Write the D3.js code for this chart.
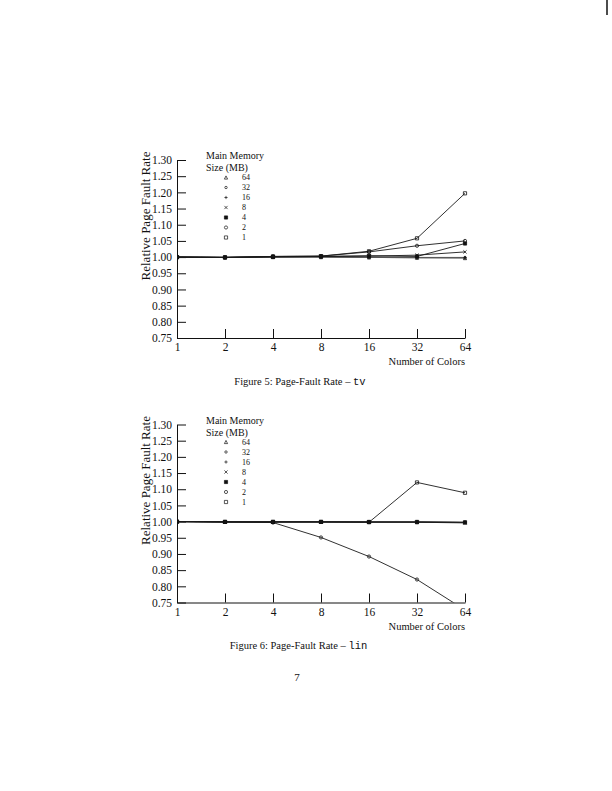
<!DOCTYPE html>
<html>
<head>
<meta charset="utf-8">
<script src="https://cdn.jsdelivr.net/npm/d3@7"></script>
<style>
    body { margin: 0; background: #fff; }
    text { font-family: "Liberation Serif", "Times New Roman", serif; fill: #111; }
    .mono { font-family: "Liberation Mono", "DejaVu Sans Mono", monospace; }
</style>
</head>
<body>
<div class="page"></div>
<script>

// x categories (number of colors) and y tick values
let numColors = [1, 2, 4, 8, 16, 32, 64];
let yTickValues = [0.75, 0.80, 0.85, 0.90, 0.95, 1.00, 1.05, 1.10, 1.15, 1.20, 1.25, 1.30];
let memorySizes = [64, 32, 16, 8, 4, 2, 1];

// Figure 5 - tv (relative page fault rate per memory size)
let tv64 = [1.000, 0.999, 1.000, 1.000, 0.999, 0.998, 0.997];
let tv32 = [1.000, 0.999, 1.000, 1.000, 0.999, 0.998, 0.998];
let tv16 = [1.000, 0.999, 1.000, 1.001, 1.000, 0.999, 0.999];
let tv8 = [1.000, 0.999, 1.001, 1.002, 1.003, 1.006, 1.016];
let tv4 = [1.000, 0.999, 1.001, 1.002, 1.004, 1.002, 1.042];
let tv2 = [1.000, 0.999, 1.002, 1.003, 1.016, 1.035, 1.050];
let tv1 = [1.000, 0.999, 1.002, 1.003, 1.018, 1.058, 1.197];

// Figure 6 - lin
let lin64 = [1.000, 0.999, 0.999, 0.999, 0.999, 0.998, 0.997];
let lin32 = [1.000, 0.999, 0.999, 0.999, 0.999, 0.999, 0.998];
let lin16 = [1.000, 0.999, 0.999, 0.999, 0.999, 0.999, 0.997];
let lin8 = [1.000, 0.999, 0.999, 0.999, 0.998, 0.998, 0.996];
let lin4 = [1.000, 0.999, 0.999, 0.999, 0.999, 0.999, 0.998];
let lin2 = [1.000, 0.999, 0.997, 0.951, 0.892, 0.821, 0.727];
let lin1 = [1.000, 0.999, 0.999, 0.999, 0.998, 1.121, 1.089];

let tvSeries = [tv64, tv32, tv16, tv8, tv4, tv2, tv1];
let linSeries = [lin64, lin32, lin16, lin8, lin4, lin2, lin1];

// marker shape for each memory size, same order as memorySizes
let markerTypes = ["triangle", "smallcircle", "plus", "cross", "filledsquare", "circle", "square"];

function markerPath(type, r) {
    if (type === "triangle") return "M0," + (-r) + "L" + r + "," + r + "L" + (-r) + "," + r + "Z";
    if (type === "plus") return "M" + (-r) + ",0H" + r + "M0," + (-r) + "V" + r;
    if (type === "cross") return "M" + (-r) + "," + (-r) + "L" + r + "," + r + "M" + (-r) + "," + r + "L" + r + "," + (-r);
    if (type === "square" || type === "filledsquare") return "M" + (-r) + "," + (-r) + "H" + r + "V" + r + "H" + (-r) + "Z";
    let c = type === "smallcircle" ? r * 0.75 : r;
    return "M" + (-c) + ",0A" + c + "," + c + " 0 1,1 " + c + ",0A" + c + "," + c + " 0 1,1 " + (-c) + ",0Z";
}

let svg = d3.select(".page").append("svg")
    .attr("width", 612)
    .attr("height", 791);

svg.append("rect").attr("width", 612).attr("height", 791).attr("fill", "#fff");

function drawFigure(offsetY, series, figNo, progName, captionX, clipId) {

    let x = d3.scaleLog().base(2).domain([1, 64]).range([177, 465]),
        y = d3.scaleLinear().domain([0.75, 1.30]).range([338 + offsetY, 160 + offsetY]);

    let g = svg.append("g");

    g.append("clipPath").attr("id", clipId)
        .append("rect")
        .attr("x", 177).attr("y", 150 + offsetY)
        .attr("width", 300).attr("height", 338 - 150);

    let yAxis = g.append("g")
        .attr("transform", "translate(177,0)")
        .call(d3.axisLeft(y).tickValues(yTickValues).tickFormat(d3.format(".2f"))
            .tickSizeInner(-9).tickSizeOuter(0).tickPadding(5));

    let xAxis = g.append("g")
        .attr("transform", "translate(0," + (338 + offsetY) + ")")
        .call(d3.axisBottom(x).tickValues(numColors).tickFormat(d3.format("d"))
            .tickSizeInner(-9).tickSizeOuter(0).tickPadding(5));

    [yAxis, xAxis].forEach(function (a) {
        a.selectAll("path, line").attr("stroke", "#111").attr("stroke-width", 1);
        a.selectAll("text")
            .style("font-family", "'Liberation Serif', serif")
            .style("font-size", "11.5px")
            .attr("fill", "#111");
    });
    xAxis.selectAll(".tick").filter(function (d) { return d === 1; }).select("line").remove();

    g.append("text")
        .attr("transform", "translate(150," + (216 + offsetY) + ") rotate(-90)")
        .attr("text-anchor", "middle")
        .style("font-size", "13px")
        .text("Relative Page Fault Rate");

    g.append("text")
        .attr("x", 465)
        .attr("y", 365 + offsetY)
        .attr("text-anchor", "end")
        .style("font-size", "10.5px")
        .text("Number of Colors");

    // legend
    g.append("text").attr("x", 206).attr("y", 159 + offsetY)
        .style("font-size", "10px").text("Main Memory");
    g.append("text").attr("x", 206).attr("y", 171 + offsetY)
        .style("font-size", "10px").text("Size (MB)");

    let legend = g.selectAll(".legend")
        .data(memorySizes)
        .enter().append("g")
        .attr("class", "legend")
        .attr("transform", function (d, i) {
            return "translate(226," + (177.5 + i * 10 + offsetY) + ")";
        });

    legend.append("path")
        .attr("d", function (d, i) { return markerPath(markerTypes[i], 1.6); })
        .attr("fill", function (d, i) { return markerTypes[i] === "filledsquare" ? "#111" : "none"; })
        .attr("stroke", "#111")
        .attr("stroke-width", 0.7);

    legend.append("text")
        .attr("x", 16)
        .attr("dy", "0.35em")
        .style("font-size", "8px")
        .text(function (d) { return d; });

    let line = d3.line()
        .x(function (d, i) { return x(numColors[i]); })
        .y(function (d) { return y(d); });

    let lines = g.append("g").attr("clip-path", "url(#" + clipId + ")");

    let memLine = lines.selectAll(".mem")
        .data(series)
        .enter().append("g")
        .attr("class", "mem");

    memLine.append("path")
        .attr("d", function (d) { return line(d); })
        .attr("fill", "none")
        .attr("stroke", function (d, i) { return i < 3 ? "#555" : "#1a1a1a"; })
        .attr("stroke-width", 0.9);

    memLine.each(function (s, si) {
        d3.select(this).selectAll(".pt")
            .data(s)
            .enter().append("path")
            .attr("class", "pt")
            .attr("transform", function (d, i) {
                return "translate(" + x(numColors[i]) + "," + y(d) + ")";
            })
            .attr("d", markerPath(markerTypes[si], 1.6))
            .attr("fill", markerTypes[si] === "filledsquare" ? "#111" : "none")
            .attr("stroke", "#111")
            .attr("stroke-width", 0.8);
    });

    let caption = svg.append("text")
        .attr("x", captionX)
        .attr("y", 384.5 + offsetY)
        .attr("text-anchor", "middle")
        .style("font-size", "10.5px");
    caption.append("tspan").text("Figure " + figNo + ":  Page-Fault Rate \u2013 ");
    caption.append("tspan").attr("class", "mono").text(progName);
}

drawFigure(0, tvSeries, 5, "tv", 300, "clip-tv");
drawFigure(264.5, linSeries, 6, "lin", 298.5, "clip-lin");

svg.append("text")
    .attr("x", 297)
    .attr("y", 681)
    .attr("text-anchor", "middle")
    .style("font-size", "11px")
    .text("7");

// scan mark in the top-right corner
svg.append("line")
    .attr("x1", 607).attr("x2", 607)
    .attr("y1", 0).attr("y2", 15)
    .attr("stroke", "#111").attr("stroke-width", 1.5);

</script>
</body>
</html>
